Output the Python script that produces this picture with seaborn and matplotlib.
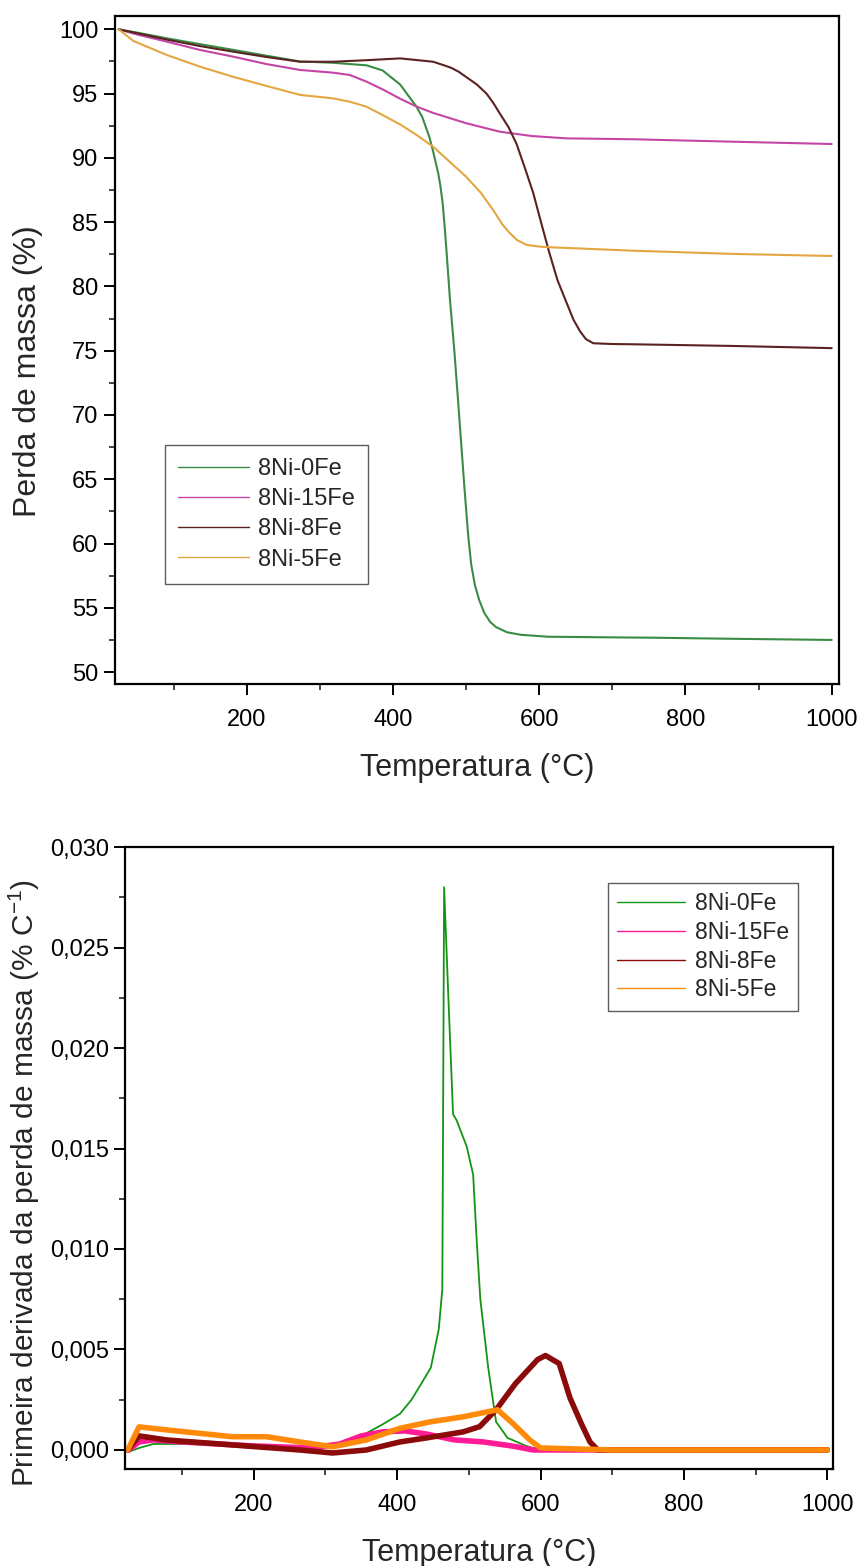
import matplotlib
matplotlib.use("Agg")
import matplotlib.pyplot as plt
import seaborn as sns
import pandas as pd
from matplotlib.ticker import MultipleLocator, FuncFormatter

# ---------------- data ----------------
labels = ["8Ni-0Fe", "8Ni-15Fe", "8Ni-8Fe", "8Ni-5Fe"]

# TG curves: temperature (°C) / mass (%)
tg_0fe_T = [25, 50, 91, 136, 182, 227, 273, 318, 364, 386, 410, 432, 440, 450, 455, 462, 465, 468, 471, 474, 478, 484, 489, 494, 498, 503, 507, 512, 518, 525, 533, 541, 556, 575, 612, 700, 762, 850, 1000]
tg_0fe_v = [100.0, 99.75, 99.3, 98.85, 98.4, 97.95, 97.5, 97.4, 97.2, 96.8, 95.7, 94.0, 93.2, 91.6, 90.5, 88.8, 87.8, 86.5, 84.5, 82.2, 79.0, 75.0, 71.2, 67.3, 64.2, 60.6, 58.4, 56.8, 55.6, 54.6, 53.9, 53.5, 53.1, 52.9, 52.75, 52.7, 52.67, 52.6, 52.5]

tg_15fe_T = [25, 50, 91, 136, 182, 227, 273, 318, 341, 364, 387, 410, 432, 455, 500, 546, 590, 637, 728, 865, 1000]
tg_15fe_v = [100.0, 99.6, 99.04, 98.4, 97.87, 97.3, 96.84, 96.63, 96.45, 95.93, 95.3, 94.6, 94.0, 93.5, 92.7, 92.04, 91.7, 91.52, 91.45, 91.26, 91.08]

tg_8fe_T = [25, 50, 91, 136, 182, 227, 273, 318, 364, 410, 455, 470, 480, 490, 500, 515, 528, 537, 546, 558, 569, 580, 592, 603, 614, 625, 637, 647, 656, 664, 674, 700, 728, 865, 1000]
tg_8fe_v = [100.0, 99.7, 99.2, 98.7, 98.26, 97.85, 97.48, 97.48, 97.6, 97.74, 97.48, 97.2, 97.0, 96.7, 96.3, 95.7, 95.0, 94.3, 93.47, 92.4, 91.1, 89.3, 87.25, 84.9, 82.6, 80.5, 78.8, 77.4, 76.5, 75.9, 75.58, 75.52, 75.5, 75.37, 75.2]

tg_5fe_T = [25, 45, 91, 136, 182, 227, 273, 318, 341, 364, 386, 410, 432, 455, 500, 520, 537, 550, 560, 570, 583, 600, 614, 728, 865, 1000]
tg_5fe_v = [100.0, 99.1, 98.0, 97.1, 96.3, 95.6, 94.9, 94.63, 94.37, 93.98, 93.33, 92.6, 91.8, 90.87, 88.54, 87.3, 85.95, 84.8, 84.14, 83.6, 83.23, 83.1, 83.05, 82.78, 82.53, 82.37]

# DTG curves: temperature (°C) / first derivative (% C^-1)
dtg_0fe_T = [25, 40, 60, 100, 200, 300, 340, 381, 404, 420, 432, 447, 458, 463, 465.5, 472, 478, 483, 497, 506, 511, 516, 527, 538, 554, 580, 600, 700, 800, 900, 1000]
dtg_0fe_v = [-0.0001, 0.0001, 0.0003, 0.0003, 0.0002, 0.0002, 0.0005, 0.0013, 0.0018, 0.0025, 0.0032, 0.0041, 0.0060, 0.0080, 0.0280, 0.0220, 0.0167, 0.0164, 0.0151, 0.0137, 0.0104, 0.0075, 0.0041, 0.0014, 0.0006, 0.0002, 0.0, 0.0, 0.0, 0.0, 0.0]

dtg_15fe_T = [25, 40, 60, 100, 200, 280, 320, 350, 380, 410, 440, 480, 520, 560, 590, 700, 800, 900, 1000]
dtg_15fe_v = [0.0, 0.0004, 0.0005, 0.0004, 0.0002, 0.0001, 0.0003, 0.0007, 0.0009, 0.00095, 0.0008, 0.0005, 0.0004, 0.0002, 0.0, 0.0, 0.0, 0.0, 0.0]

dtg_8fe_T = [24, 40, 78, 170, 264, 310, 357, 404, 441, 492, 515, 538, 565, 596, 607, 626, 641, 657, 669, 680, 800, 1000]
dtg_8fe_v = [0.0, 0.0007, 0.0005, 0.00025, 0.0, -0.00015, 0.0, 0.0004, 0.0006, 0.0009, 0.00116, 0.002, 0.0033, 0.0045, 0.0047, 0.0043, 0.0026, 0.0013, 0.0004, 0.0, 0.0, 0.0]

dtg_5fe_T = [24, 40, 78, 170, 218, 264, 310, 357, 404, 446, 492, 540, 562, 585, 600, 700, 800, 900, 1000]
dtg_5fe_v = [0.0, 0.00115, 0.001, 0.00066, 0.00066, 0.0004, 0.00016, 0.0005, 0.00108, 0.0014, 0.00165, 0.002, 0.0013, 0.0005, 0.0001, 0.0, 0.0, 0.0, 0.0]

x_major = [200, 400, 600, 800, 1000]
tg_yticks = [50, 55, 60, 65, 70, 75, 80, 85, 90, 95, 100]
dtg_yticks = [0.000, 0.005, 0.010, 0.015, 0.020, 0.025, 0.030]

# ---------------- style ----------------
sns.set_style("white")
FONT = ["Liberation Sans", "DejaVu Sans"]
plt.rcParams["font.family"] = FONT
plt.rcParams["mathtext.fontset"] = "custom"
plt.rcParams["mathtext.rm"] = "Liberation Sans"
plt.rcParams["mathtext.it"] = "Liberation Sans:italic"
plt.rcParams["mathtext.bf"] = "Liberation Sans:bold"

tg_colors = ["#3a8c45", "#c545a5", "#5a2222", "#e3a640"]
dtg_colors = ["#139413", "#ff1a96", "#8b0a0a", "#ff8a0a"]

fig = plt.figure(figsize=(8.59, 15.66), dpi=100)
ax1 = fig.add_axes([0.1339, 0.5632, 0.8428, 0.4266])
ax2 = fig.add_axes([0.1461, 0.0619, 0.8236, 0.3972])

# ---------------- TG plot ----------------
tg_T = [tg_0fe_T, tg_15fe_T, tg_8fe_T, tg_5fe_T]
tg_V = [tg_0fe_v, tg_15fe_v, tg_8fe_v, tg_5fe_v]
for T, V, c, lab in zip(tg_T, tg_V, tg_colors, labels):
    df = pd.DataFrame({"T": T, "v": V})
    sns.lineplot(data=df, x="T", y="v", ax=ax1, color=c, linewidth=1.5, label=lab)

ax1.set_xlim(20, 1010)
ax1.set_ylim(49.07, 101.04)
ax1.set_xticks(x_major)
ax1.set_yticks(tg_yticks)
ax1.xaxis.set_minor_locator(MultipleLocator(100))
ax1.yaxis.set_minor_locator(MultipleLocator(2.5))
ax1.set_xlabel("Temperatura (°C)", fontsize=22, labelpad=16)
ax1.set_ylabel("Perda de massa (%)", fontsize=23)
ax1.yaxis.set_label_coords(-0.0995, 0.469)

# ---------------- DTG plot ----------------
dtg_T = [dtg_0fe_T, dtg_15fe_T, dtg_8fe_T, dtg_5fe_T]
dtg_V = [dtg_0fe_v, dtg_15fe_v, dtg_8fe_v, dtg_5fe_v]
dtg_lw = [1.3, 4.0, 4.0, 4.0]
for T, V, c, lab, lw in zip(dtg_T, dtg_V, dtg_colors, labels, dtg_lw):
    df = pd.DataFrame({"T": T, "v": V})
    sns.lineplot(data=df, x="T", y="v", ax=ax2, color=c, linewidth=lw, label=lab)

ax2.set_xlim(21, 1008)
ax2.set_ylim(-0.00095, 0.030)
ax2.set_xticks(x_major)
ax2.set_yticks(dtg_yticks)
ax2.xaxis.set_minor_locator(MultipleLocator(100))
ax2.yaxis.set_minor_locator(MultipleLocator(0.0025))
ax2.yaxis.set_major_formatter(FuncFormatter(lambda v, p: f"{v:.3f}".replace(".", ",").replace("-", "")))
ax2.set_xlabel("Temperatura (°C)", fontsize=22, labelpad=16)
ax2.set_ylabel(r"Primeira derivada da perda de massa (% C$^{-1}$)", fontsize=21.5)
ax2.yaxis.set_label_coords(-0.118, 0.46)

for ax in (ax1, ax2):
    for s in ax.spines.values():
        s.set_visible(True)
        s.set_color("black")
        s.set_linewidth(1.6)
    ax.tick_params(axis="both", which="major", direction="out", length=8, width=1.4,
                   labelsize=17, colors="black", left=True, bottom=True, top=False, right=False, pad=4)
    ax.tick_params(axis="both", which="minor", direction="out", length=4, width=1.2,
                   left=True, bottom=True, top=False, right=False)
    ax.tick_params(axis="x", which="major", pad=10)

# legends
leg1 = ax1.legend(loc="upper left", bbox_to_anchor=(0.069, 0.358), borderaxespad=0,
                  frameon=True, fancybox=False, edgecolor="#333333",
                  handlelength=3.0, handletextpad=0.4, labelspacing=0.35, borderpad=0.55,
                  prop={"size": 17})
leg2 = ax2.legend(loc="upper right", bbox_to_anchor=(0.9505, 0.942), borderaxespad=0,
                  frameon=True, fancybox=False, edgecolor="#333333",
                  handlelength=3.0, handletextpad=0.4, labelspacing=0.25, borderpad=0.4,
                  prop={"size": 16.5})
for leg in (leg1, leg2):
    leg.get_frame().set_linewidth(1.0)
    for ln in leg.get_lines():
        ln.set_linewidth(1.0)

fig.savefig("out.png", dpi=100)
